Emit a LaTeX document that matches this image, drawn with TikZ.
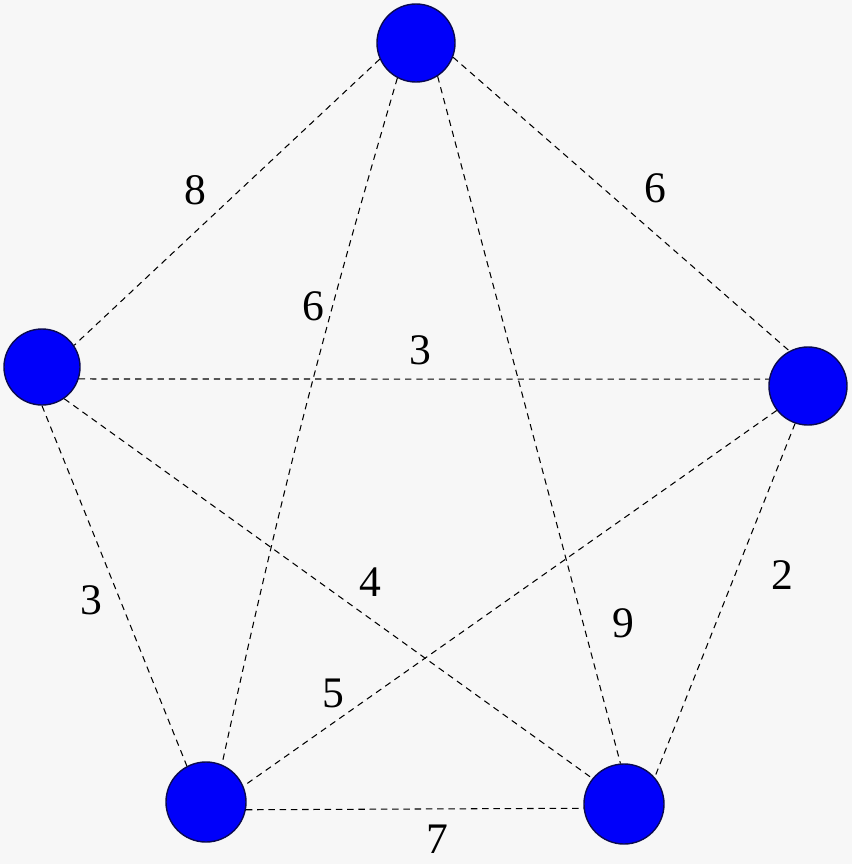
\documentclass[tikz,border=0pt]{standalone}
\usepackage{fontspec}
\setmainfont{Liberation Serif}
\usepackage{xcolor}
\usepackage{tikz}
\definecolor{bgc}{RGB}{247,247,247}
\definecolor{vblue}{RGB}{0,0,250}
\definecolor{vrim}{RGB}{10,10,80}

\begin{document}
\begin{tikzpicture}[x=0.025cm, y=-0.025cm,
  vtx/.style={draw=vrim, circle, fill=vblue, line width=1pt, minimum size=1.95cm, inner sep=0pt},
  edge/.style={dash pattern=on 4.5pt off 3.5pt, line width=0.75pt, black},
  wt/.style={font=\fontsize{31}{36}\selectfont, inner sep=1pt}]
\fill[bgc] (0,0) rectangle (852,864);
\useasboundingbox (0,0) rectangle (852,864);
% vertices
\node[vtx] (t) at (416,43) {};
\node[vtx, minimum size=1.9cm] (l) at (42,367) {};
\node[vtx] (r) at (808,386) {};
\node[vtx, minimum size=2cm] (bl) at (206,802) {};
\node[vtx, minimum size=2cm] (br) at (624,804) {};
% edges
\draw[edge] (t.204) -- (l.34);
\draw[edge] (t.339) -- (r.118);
\draw[edge] (t.242) to[bend right=2] (bl.67);
\draw[edge] (t.303) -- (br.95);
\draw[edge] (l.342) -- (r.170);
\draw[edge] (l.270) -- (bl.118);
\draw[edge] (l.305) -- (br.141);
\draw[edge] (r.218) -- (bl.23);
\draw[edge] (r.251) -- (br.41);
\draw[edge] (bl.349) -- (br.186);
% weights
\node[wt] (w8) at (195,190) {8};
\node[wt] (w6a) at (655,188) {6};
\node[wt] (w6b) at (313,306) {6};
\node[wt] (w3a) at (420,350) {3};
\node[wt] (w3b) at (91,600) {3};
\node[wt] (w4) at (370,582) {4};
\node[wt] (w9) at (623,623) {9};
\node[wt] (w2) at (782,575) {2};
\node[wt] (w5) at (333,693) {5};
\node[wt] (w7) at (437,839) {7};
\end{tikzpicture}
\end{document}
